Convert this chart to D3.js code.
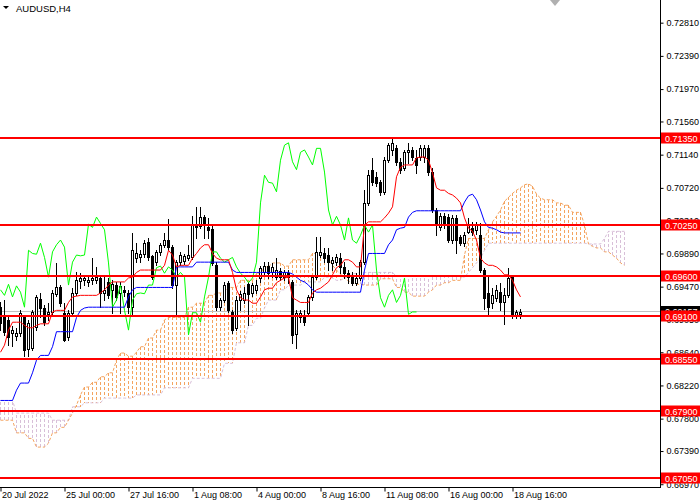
<!DOCTYPE html>
<html>
<head>
<meta charset="utf-8">
<script src="https://cdn.jsdelivr.net/npm/d3@7"></script>
<style>
body{margin:0;background:#fff;}
svg{display:block;font-family:"Liberation Sans",Arial,sans-serif;}
</style>
</head>
<body>
<svg id="chart" width="700" height="500"></svg>
<script>
const symbol = "AUDUSD,H4"
const timeTicks = [0, 16, 32, 48, 64, 80, 96, 112, 128]
const timeLabels = ["20 Jul 2022", "25 Jul 00:00", "27 Jul 16:00", "1 Aug 08:00", "4 Aug 00:00", "8 Aug 16:00", "11 Aug 08:00", "16 Aug 00:00", "18 Aug 16:00"]
const priceTicks = [0.72810, 0.72390, 0.71970, 0.71560, 0.71140, 0.70720, 0.70310, 0.69890, 0.69470, 0.69050, 0.68640, 0.68220, 0.67800, 0.67390, 0.66970]
const levels = [0.7135, 0.7025, 0.6960, 0.6910, 0.6855, 0.6790, 0.6705]
const bid = 0.69157

const open = [0.6921,0.6911,0.6905,0.6888,0.6884,0.6888,0.6908,0.6868,0.6869,0.6896,
	0.6931,0.6920,0.6912,0.6915,0.6938,0.6946,0.6914,0.6883,0.6914,0.6939,
	0.6954,0.6955,0.6953,0.6955,0.6955,0.6958,0.6939,0.6953,0.6943,0.6949,
	0.6939,0.6943,0.6939,0.6921,0.6983,0.6984,0.6988,0.7003,0.6986,0.6978,
	0.6991,0.7000,0.7006,0.6997,0.6949,0.6978,0.6979,0.6983,0.6984,0.7026,
	0.7024,0.7035,0.7022,0.7020,0.6974,0.6921,0.6930,0.6952,0.6915,0.6895,
	0.6930,0.6930,0.6950,0.6939,0.6943,0.6958,0.6965,0.6973,0.6965,0.6959,
	0.6967,0.6959,0.6964,0.6953,0.6887,0.6908,0.6908,0.6914,0.6934,0.6959,
	0.6987,0.6989,0.6987,0.6977,0.6978,0.6983,0.6972,0.6964,0.6959,0.6952,
	0.6958,0.6978,0.7053,0.7095,0.7086,0.7079,0.7067,0.7107,0.7120,0.7122,
	0.7105,0.7097,0.7117,0.7120,0.7110,0.7111,0.7111,0.7122,0.7092,0.7044,
	0.7022,0.7036,0.7035,0.7006,0.7034,0.7010,0.7002,0.7016,0.7021,0.7019,
	0.7012,0.6968,0.6939,0.6926,0.6933,0.6940,0.6927,0.6936,0.6959,0.6911,
	0.6912]
const high = [0.6927,0.6930,0.6908,0.6897,0.6895,0.6917,0.6911,0.6905,0.6917,0.6936,
	0.6939,0.6924,0.6926,0.6943,0.6977,0.6949,0.6926,0.6917,0.6945,0.6965,
	0.6964,0.6962,0.6960,0.6983,0.6972,0.6962,0.6959,0.6958,0.6955,0.6953,
	0.6953,0.6948,0.6943,0.7015,0.7002,0.6993,0.7006,0.7008,0.6987,0.6993,
	0.7002,0.7015,0.7033,0.7000,0.6981,0.6991,0.6988,0.7000,0.7036,0.7048,
	0.7048,0.7038,0.7034,0.7024,0.6978,0.6933,0.6953,0.6954,0.6917,0.6935,
	0.6941,0.6946,0.6953,0.6952,0.6955,0.6973,0.6978,0.6978,0.6977,0.6983,
	0.6971,0.6968,0.6968,0.6955,0.6917,0.6917,0.6917,0.6936,0.6962,0.7010,
	0.7010,0.6996,0.6996,0.6984,0.6988,0.6989,0.6978,0.6968,0.6965,0.6964,
	0.6981,0.7069,0.7095,0.7110,0.7092,0.7082,0.7111,0.7129,0.7135,0.7126,
	0.7110,0.7120,0.7129,0.7124,0.7120,0.7126,0.7126,0.7126,0.7097,0.7046,
	0.7040,0.7040,0.7039,0.7038,0.7038,0.7012,0.7016,0.7034,0.7029,0.7029,
	0.7027,0.6971,0.6959,0.6945,0.6949,0.6952,0.6945,0.6971,0.6962,0.6917,
	0.6919]
const low = [0.6892,0.6886,0.6873,0.6872,0.6879,0.6884,0.6859,0.6859,0.6867,0.6892,
	0.6908,0.6898,0.6905,0.6912,0.6935,0.6922,0.6878,0.6879,0.6911,0.6936,
	0.6945,0.6949,0.6948,0.6950,0.6952,0.6921,0.6930,0.6933,0.6914,0.6930,
	0.6914,0.6935,0.6914,0.6911,0.6978,0.6978,0.6984,0.6981,0.6957,0.6974,
	0.6987,0.6997,0.6993,0.6945,0.6911,0.6974,0.6976,0.6981,0.6982,0.7008,
	0.7021,0.7008,0.7008,0.6974,0.6917,0.6917,0.6927,0.6915,0.6888,0.6892,
	0.6917,0.6926,0.6898,0.6935,0.6939,0.6953,0.6962,0.6958,0.6959,0.6957,
	0.6955,0.6955,0.6952,0.6876,0.6869,0.6902,0.6898,0.6910,0.6930,0.6957,
	0.6984,0.6978,0.6968,0.6968,0.6974,0.6964,0.6958,0.6952,0.6949,0.6949,
	0.6955,0.6976,0.7050,0.7076,0.7074,0.7063,0.7064,0.7105,0.7114,0.7101,
	0.7091,0.7095,0.7103,0.7107,0.7091,0.7107,0.7105,0.7088,0.7041,0.7012,
	0.7019,0.7021,0.7003,0.7002,0.6989,0.7000,0.6998,0.7015,0.7012,0.7014,
	0.6965,0.6919,0.6911,0.6920,0.6929,0.6917,0.6900,0.6934,0.6907,0.6907,
	0.6907]
const close = [0.6901,0.6890,0.6883,0.6892,0.6888,0.6914,0.6867,0.6901,0.6915,0.6934,
	0.6920,0.6902,0.6915,0.6939,0.6946,0.6926,0.6879,0.6914,0.6939,0.6955,
	0.6958,0.6958,0.6955,0.6958,0.6959,0.6939,0.6943,0.6936,0.6950,0.6934,
	0.6948,0.6940,0.6921,0.6993,0.6989,0.6988,0.7002,0.6984,0.6959,0.6991,
	0.7000,0.7006,0.6997,0.6949,0.6978,0.6987,0.6986,0.6987,0.7026,0.7022,
	0.7035,0.7027,0.7019,0.6977,0.6921,0.6930,0.6949,0.6917,0.6892,0.6930,
	0.6938,0.6939,0.6938,0.6949,0.6949,0.6971,0.6973,0.6964,0.6972,0.6968,
	0.6959,0.6965,0.6959,0.6886,0.6914,0.6914,0.6902,0.6934,0.6959,0.6991,
	0.6991,0.6983,0.6978,0.6981,0.6984,0.6972,0.6964,0.6959,0.6952,0.6958,
	0.6978,0.7053,0.7088,0.7079,0.7078,0.7067,0.7107,0.7126,0.7129,0.7105,
	0.7095,0.7117,0.7120,0.7111,0.7101,0.7122,0.7122,0.7092,0.7044,0.7025,
	0.7036,0.7025,0.7006,0.7034,0.7006,0.7002,0.7012,0.7025,0.7016,0.7025,
	0.6968,0.6933,0.6921,0.6936,0.6943,0.6927,0.6936,0.6958,0.6912,0.6915,
	0.6915]

// ichimoku lines
const tenkan = [0.6864,0.6873,0.6892,0.6902,0.6902,0.6902,0.6898,0.6895,0.6895,0.6898,
	0.6900,0.6900,0.6900,0.6915,0.6917,0.6917,0.6917,0.6927,0.6934,0.6935,
	0.6936,0.6936,0.6936,0.6936,0.6936,0.6939,0.6943,0.6949,0.6953,0.6953,
	0.6953,0.6953,0.6958,0.6959,0.6965,0.6968,0.6968,0.6968,0.6968,0.6968,
	0.6968,0.6974,0.6993,0.6987,0.6972,0.6974,0.6974,0.6974,0.6983,0.6989,
	0.6996,0.7000,0.7000,0.6989,0.6983,0.6981,0.6981,0.6981,0.6965,0.6943,
	0.6933,0.6930,0.6930,0.6926,0.6926,0.6934,0.6943,0.6945,0.6945,0.6952,
	0.6955,0.6958,0.6959,0.6933,0.6930,0.6927,0.6927,0.6927,0.6939,0.6943,
	0.6945,0.6949,0.6953,0.6962,0.6971,0.6974,0.6981,0.6981,0.6978,0.6972,
	0.6972,0.7025,0.7029,0.7029,0.7029,0.7029,0.7034,0.7040,0.7048,0.7086,
	0.7098,0.7101,0.7101,0.7101,0.7110,0.7111,0.7111,0.7107,0.7091,0.7072,
	0.7069,0.7069,0.7065,0.7063,0.7059,0.7053,0.7034,0.7021,0.7017,0.7006,
	0.6983,0.6977,0.6974,0.6974,0.6972,0.6968,0.6962,0.6962,0.6955,0.6943,
	0.6934]
const kijun = [0.6803,0.6803,0.6803,0.6803,0.6816,0.6825,0.6825,0.6825,0.6838,0.6854,
	0.6860,0.6860,0.6860,0.6871,0.6890,0.6890,0.6890,0.6890,0.6890,0.6908,
	0.6917,0.6920,0.6921,0.6921,0.6921,0.6921,0.6921,0.6921,0.6921,0.6921,
	0.6921,0.6921,0.6934,0.6943,0.6946,0.6946,0.6946,0.6946,0.6946,0.6946,
	0.6946,0.6946,0.6946,0.6946,0.6972,0.6972,0.6972,0.6972,0.6972,0.6978,
	0.6978,0.6978,0.6978,0.6978,0.6978,0.6978,0.6978,0.6978,0.6968,0.6965,
	0.6965,0.6965,0.6965,0.6965,0.6965,0.6965,0.6965,0.6965,0.6965,0.6965,
	0.6965,0.6965,0.6965,0.6963,0.6959,0.6955,0.6953,0.6949,0.6943,0.6940,
	0.6940,0.6940,0.6940,0.6940,0.6940,0.6940,0.6940,0.6940,0.6940,0.6940,
	0.6940,0.6968,0.6989,0.6989,0.6989,0.6989,0.6989,0.7000,0.7006,0.7019,
	0.7021,0.7022,0.7035,0.7041,0.7043,0.7043,0.7043,0.7043,0.7043,0.7043,
	0.7043,0.7043,0.7043,0.7043,0.7043,0.7043,0.7054,0.7062,0.7064,0.7057,
	0.7044,0.7029,0.7022,0.7021,0.7019,0.7016,0.7015,0.7015,0.7015,0.7015,
	0.7015]
const chikou = [0.6943,0.6936,0.6950,0.6934,0.6948,0.6940,0.6921,0.6993,0.6989,0.6988,
	0.7002,0.6984,0.6959,0.6991,0.7000,0.7006,0.6997,0.6949,0.6978,0.6987,
	0.6986,0.6987,0.7026,0.7022,0.7035,0.7027,0.7019,0.6977,0.6921,0.6930,
	0.6949,0.6917,0.6892,0.6930,0.6938,0.6939,0.6938,0.6949,0.6949,0.6971,
	0.6973,0.6964,0.6972,0.6968,0.6959,0.6965,0.6959,0.6886,0.6914,0.6914,
	0.6902,0.6934,0.6959,0.6991,0.6991,0.6983,0.6978,0.6981,0.6984,0.6972,
	0.6964,0.6959,0.6952,0.6958,0.6978,0.7053,0.7088,0.7079,0.7078,0.7067,
	0.7107,0.7126,0.7129,0.7105,0.7095,0.7117,0.7120,0.7111,0.7101,0.7122,
	0.7122,0.7092,0.7044,0.7025,0.7036,0.7025,0.7006,0.7034,0.7006,0.7002,
	0.7012,0.7025,0.7016,0.7025,0.6968,0.6933,0.6921,0.6936,0.6943,0.6927,
	0.6936,0.6958,0.6912,0.6915,0.6915]
const spanA = [0.6778,0.6778,0.6778,0.6778,0.6762,0.6762,0.6762,0.6755,0.6755,0.6744,
	0.6744,0.6744,0.6749,0.6762,0.6762,0.6769,0.6769,0.6778,0.6787,0.6797,
	0.6810,0.6820,0.6820,0.6826,0.6826,0.6833,0.6833,0.6838,0.6838,0.6854,
	0.6863,0.6863,0.6859,0.6859,0.6864,0.6871,0.6871,0.6882,0.6882,0.6892,
	0.6892,0.6905,0.6908,0.6908,0.6908,0.6908,0.6908,0.6921,0.6921,0.6926,
	0.6926,0.6926,0.6936,0.6936,0.6939,0.6939,0.6939,0.6946,0.6946,0.6946,
	0.6955,0.6955,0.6955,0.6955,0.6964,0.6964,0.6972,0.6972,0.6977,0.6977,
	0.6977,0.6973,0.6973,0.6981,0.6981,0.6981,0.6981,0.6981,0.6989,0.6989,
	0.6989,0.6984,0.6983,0.6974,0.6968,0.6963,0.6958,0.6954,0.6952,0.6950,
	0.6950,0.6949,0.6949,0.6949,0.6949,0.6957,0.6957,0.6957,0.6957,0.6946,
	0.6946,0.6940,0.6940,0.6935,0.6935,0.6935,0.6935,0.6940,0.6943,0.6949,
	0.6949,0.6952,0.6952,0.6955,0.6955,0.6955,0.6987,0.7008,0.7008,0.7008,
	0.7008,0.7008,0.7019,0.7029,0.7036,0.7044,0.7055,0.7060,0.7065,0.7069,
	0.7072,0.7076,0.7077,0.7074,0.7064,0.7059,0.7057,0.7057,0.7057,0.7053,
	0.7053,0.7050,0.7050,0.7041,0.7041,0.7041,0.7025,0.7001,0.6998,0.6996,
	0.6996,0.6991,0.6991,0.6987,0.6983,0.6977,0.6974]
const spanB = [0.6803,0.6803,0.6803,0.6803,0.6787,0.6787,0.6787,0.6787,0.6787,0.6787,
	0.6787,0.6787,0.6787,0.6778,0.6778,0.6778,0.6778,0.6778,0.6795,0.6795,
	0.6795,0.6800,0.6800,0.6800,0.6800,0.6800,0.6806,0.6806,0.6806,0.6806,
	0.6806,0.6806,0.6806,0.6806,0.6810,0.6810,0.6810,0.6810,0.6810,0.6810,
	0.6810,0.6819,0.6819,0.6819,0.6819,0.6819,0.6819,0.6819,0.6831,0.6831,
	0.6831,0.6831,0.6831,0.6831,0.6831,0.6831,0.6850,0.6850,0.6850,0.6876,
	0.6876,0.6876,0.6898,0.6898,0.6907,0.6907,0.6920,0.6930,0.6930,0.6930,
	0.6943,0.6943,0.6949,0.6949,0.6949,0.6949,0.6953,0.6953,0.6953,0.6953,
	0.6953,0.6959,0.6959,0.6958,0.6955,0.6955,0.6958,0.6960,0.6963,0.6964,
	0.6965,0.6965,0.6965,0.6965,0.6965,0.6965,0.6965,0.6965,0.6965,0.6960,
	0.6960,0.6960,0.6960,0.6960,0.6960,0.6960,0.6960,0.6960,0.6960,0.6960,
	0.6960,0.6960,0.6960,0.6960,0.6960,0.6960,0.6959,0.6965,0.6971,0.6977,
	0.6983,0.6993,0.7002,0.7002,0.7002,0.7002,0.7002,0.7002,0.7002,0.7002,
	0.7002,0.7002,0.7002,0.7002,0.7002,0.7002,0.7002,0.7002,0.7002,0.7002,
	0.7002,0.7002,0.7002,0.7002,0.7002,0.7002,0.7002,0.7001,0.7001,0.7001,
	0.7001,0.7008,0.7017,0.7017,0.7017,0.7017,0.7017]

const W = 660, H = 487
const fmt = d3.format(".5f")
const svg = d3.select("#chart")
const x = d3.scaleLinear().domain([0, 165]).range([0.5, 660.5])
const y = d3.scaleLinear().domain([0.66935, 0.73097]).range([H, 0])

svg.append("rect").attr("width", 700).attr("height", 500).attr("fill", "#fff")
svg.append("clipPath").attr("id", "clip").append("rect").attr("width", W).attr("height", H)
const plot = svg.append("g").attr("clip-path", "url(#clip)")

// cloud
let cloud = spanA.map((a, i) => ({ i: i, a: a, b: spanB[i] }))
plot.append("g").selectAll("line").data(cloud).join("line")
	.attr("x1", d => x(d.i)).attr("x2", d => x(d.i))
	.attr("y1", d => y(d.a)).attr("y2", d => y(d.b))
	.attr("stroke", d => d.a >= d.b ? "#F4A460" : "#D8BFD8")
	.attr("stroke-dasharray", "3,2")
	.attr("shape-rendering", "crispEdges")
const line = d3.line().x((d, i) => x(i)).y(d => y(d))
plot.append("path").attr("d", line(spanB)).attr("fill", "none")
	.attr("stroke", "#D8BFD8").attr("stroke-dasharray", "3,2")
plot.append("path").attr("d", line(spanA)).attr("fill", "none")
	.attr("stroke", "#F4A460").attr("stroke-dasharray", "3,2")

plot.append("line").attr("x1", 0).attr("x2", W)
	.attr("y1", Math.round(y(bid)) + 0.5).attr("y2", Math.round(y(bid)) + 0.5)
	.attr("stroke", "#C0C0C0")

// candles
let bars = open.map((o, i) => ({ i: i, o: o, h: high[i], l: low[i], c: close[i] }))
let candle = plot.append("g").attr("shape-rendering", "crispEdges")
	.selectAll("g").data(bars).join("g")
candle.append("line")
	.attr("x1", d => x(d.i)).attr("x2", d => x(d.i))
	.attr("y1", d => Math.round(y(d.h))).attr("y2", d => Math.round(y(d.l)) + 1)
	.attr("stroke", "#000")
candle.append("rect")
	.attr("x", d => d.c >= d.o ? x(d.i) - 1 : x(d.i) - 1.5)
	.attr("width", d => d.c >= d.o ? 2 : 3)
	.attr("y", d => d.c >= d.o ? Math.round(y(d.c)) + 0.5 : Math.round(y(d.o)))
	.attr("height", d => {
		let hgt = Math.abs(Math.round(y(d.o)) - Math.round(y(d.c)))
		return d.c >= d.o ? Math.max(hgt, 1) : hgt + 1
	})
	.attr("fill", d => d.c >= d.o ? "#fff" : "#000")
	.attr("stroke", d => d.c >= d.o ? "#000" : "none")

plot.append("path").attr("d", line(chikou)).attr("fill", "none").attr("stroke", "#00FF00")
plot.append("path").attr("d", line(kijun)).attr("fill", "none").attr("stroke", "#0000FF")
plot.append("path").attr("d", line(tenkan)).attr("fill", "none").attr("stroke", "#FF0000")

plot.append("g").selectAll("line").data(levels).join("line")
	.attr("x1", 0).attr("x2", W)
	.attr("y1", d => Math.round(y(d))).attr("y2", d => Math.round(y(d)))
	.attr("stroke", "#FF0000").attr("stroke-width", 2)

// axes
svg.append("line").attr("x1", W + 0.5).attr("x2", W + 0.5).attr("y1", 0).attr("y2", H + 1)
	.attr("stroke", "#000")
svg.append("line").attr("x1", 0).attr("x2", W + 1).attr("y1", H + 0.5).attr("y2", H + 0.5)
	.attr("stroke", "#000")

let yAxis = svg.append("g").attr("transform", `translate(${W + 0.5},0)`)
	.call(d3.axisRight(y).tickValues(priceTicks).tickSize(3).tickPadding(3).tickFormat(fmt))
yAxis.select(".domain").remove()
yAxis.attr("font-family", null).attr("font-size", null)
yAxis.selectAll("text").attr("font-size", "9px").attr("fill", "#000")

let xAxis = svg.append("g").attr("transform", `translate(0,${H + 0.5})`)
	.call(d3.axisBottom(x).tickValues(timeTicks).tickSize(4).tickFormat((d, i) => timeLabels[i]))
xAxis.select(".domain").remove()
xAxis.attr("font-family", null).attr("font-size", null)
xAxis.selectAll("text").attr("font-size", "9px").attr("fill", "#000")
	.attr("text-anchor", "start").attr("x", 1).attr("y", 4.5).attr("dy", "0.71em")

// price labels
let bidLabel = svg.append("g")
bidLabel.append("rect").attr("x", W + 1).attr("y", Math.round(y(bid)) - 5).attr("width", 39).attr("height", 11).attr("fill", "#000")
bidLabel.append("text").attr("x", W + 5).attr("y", Math.round(y(bid)) + 4)
	.attr("font-size", "9px").attr("fill", "#fff").text(fmt(bid))

let lab = svg.append("g").selectAll("g").data(levels).join("g")
lab.append("rect").attr("x", W + 1).attr("y", d => Math.round(y(d)) - 5.5)
	.attr("width", 39).attr("height", 11).attr("fill", "#FF0000")
lab.append("text").attr("x", W + 5).attr("y", d => Math.round(y(d)) + 3.5)
	.attr("font-size", "9px").attr("fill", "#fff").text(d => fmt(d))

// title and shift marker
svg.append("path").attr("d", "M3,6L9,6L6,9Z").attr("fill", "#000")
svg.append("text").attr("x", 16).attr("y", 12).attr("font-size", "9.5px").attr("fill", "#000").text(symbol)
svg.append("path").attr("d", "M550,0L560,0L555,6Z").attr("fill", "#B0B0B0")
</script>
</body>
</html>
